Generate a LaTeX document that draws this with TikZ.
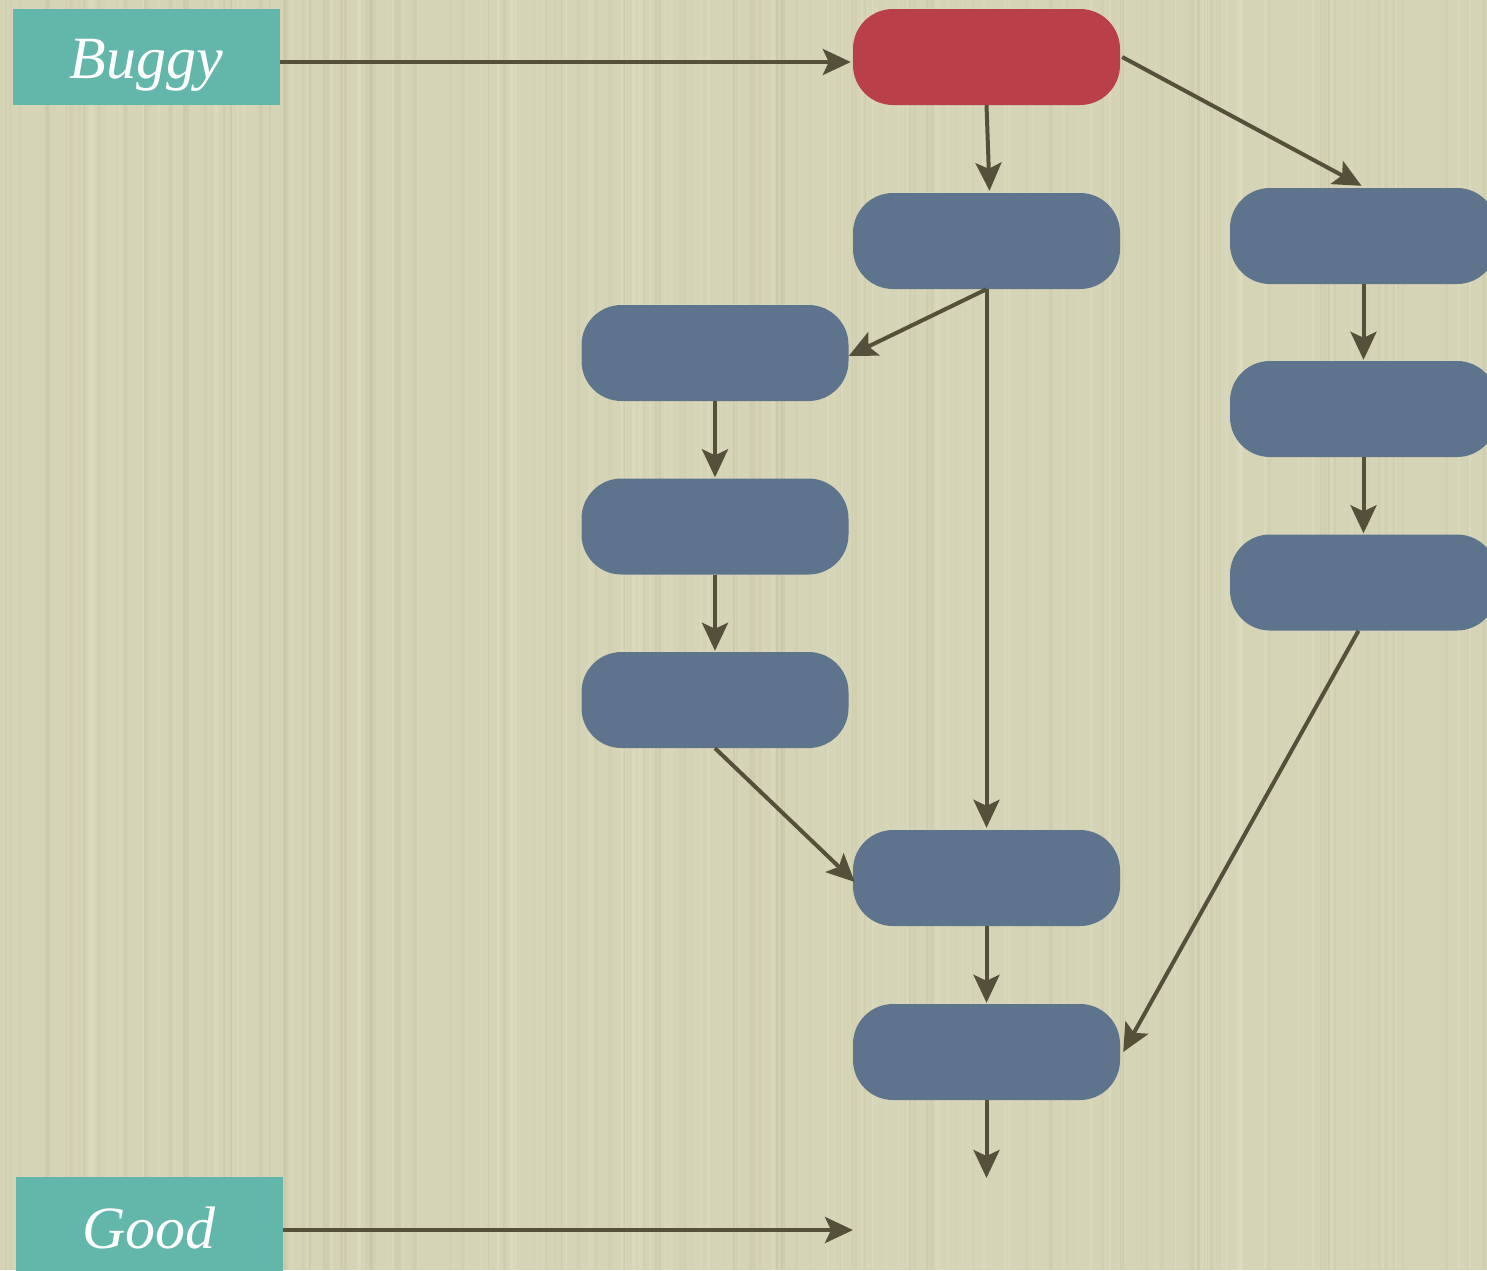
\documentclass[tikz,border=0pt]{standalone}
\usepackage{fontspec}
\setmainfont{Liberation Serif}
\usetikzlibrary{arrows.meta,calc}
\definecolor{paper}{RGB}{214,212,182}
\definecolor{paperlight}{RGB}{226,225,200}
\definecolor{paperdark}{RGB}{196,193,160}
\definecolor{tealbox}{RGB}{99,182,170}
\definecolor{redbox}{RGB}{185,64,72}
\definecolor{bluebox}{RGB}{94,116,140}
\definecolor{wire}{RGB}{85,80,58}
\tikzset{
  pill/.style={rectangle, rounded corners=40pt, minimum width=267pt, minimum height=96pt, inner sep=0pt},
  bluepill/.style={pill, fill=bluebox},
  redpill/.style={pill, fill=redbox},
  tag/.style={rectangle, fill=tealbox, minimum width=267pt, minimum height=96pt, inner sep=0pt,
              text=white, text depth=0pt, font=\itshape\fontsize{60}{60}\selectfont},
  link/.style={draw=wire, line width=4pt, -{Stealth[length=28pt,width=26pt,inset=6pt]}}
}
\begin{document}
\begin{tikzpicture}[x=1pt,y=-1pt]
  \useasboundingbox (0,0) rectangle (1487,1270);
  \begin{scope}
    \clip (0,0) rectangle (1487,1270);
    % paper ground with fine vertical grain
    \fill[paper] (0,0) rectangle (1487,1270);
    \pgfmathsetseed{7}
    \foreach \i in {1,...,260}{
      \pgfmathsetmacro{\xx}{rnd*1487}
      \pgfmathsetmacro{\ww}{1+rnd*3}
      \pgfmathsetmacro{\oo}{0.15+rnd*0.3}
      \pgfmathsetmacro{\dd}{rnd}
      \ifdim\dd pt<0.5pt
        \draw[paperlight, line width=\ww pt, opacity=\oo] (\xx,0) -- (\xx,1270);
      \else
        \draw[paperdark, line width=\ww pt, opacity=\oo] (\xx,0) -- (\xx,1270);
      \fi
    }

    % labels (baseline placed through a fixed text height)
    \node[tag, text height=42pt] (buggy) at (146.5,57) {Buggy};
    \node[tag, text height=32pt, minimum height=110pt] (good) at (149,1232) {Good};

    % steps
    \node[redpill]  (top) at (986.5,57) {};
    \node[bluepill] (b1)  at (986.5,241) {};
    \node[bluepill] (b2)  at (986.5,878) {};
    \node[bluepill] (b3)  at (986.5,1052) {};
    \node[bluepill] (l1)  at (715,353) {};
    \node[bluepill] (l2)  at (715,526.5) {};
    \node[bluepill] (l3)  at (715,700) {};
    \node[bluepill] (r1)  at (1363.5,236) {};
    \node[bluepill] (r2)  at (1363.5,409) {};
    \node[bluepill] (r3)  at (1363.5,582.5) {};

    \coordinate (goodend) at (853,1230);
    \coordinate (tail) at (986.5,1178);

    % connectors
    \draw[link] ($(buggy.east)+(0,5)$) -- ($(top.west)+(-2,5)$);
    \draw[link] (top.south) -- ($(b1.north)+(3,-2)$);
    \draw[link] ($(top.east)+(2,0)$) -- ($(r1.north)+(-2,-2)$);
    \draw[link] (b1.south) -- ($(l1.east)+(0,3)$);
    \draw[link] (b1.south) -- ($(b2.north)+(0,-2)$);
    \draw[link] (l1.south) -- ($(l2.north)+(0,-1)$);
    \draw[link] (l2.south) -- ($(l3.north)+(0,-1)$);
    \draw[link] (l3.south) -- ($(b2.west)+(2,4)$);
    \draw[link] (b2.south) -- ($(b3.north)+(0,-1)$);
    \draw[link] (b3.south) -- (tail);
    \draw[link] (r1.south) -- ($(r2.north)+(0,-1)$);
    \draw[link] (r2.south) -- ($(r3.north)+(0,-1)$);
    \draw[link] ($(r3.south)+(-5,0)$) -- ($(b3.east)+(3,0)$);
    \draw[link] (good.east) ++(0,-2) -- (goodend);
  \end{scope}
\end{tikzpicture}
\end{document}
